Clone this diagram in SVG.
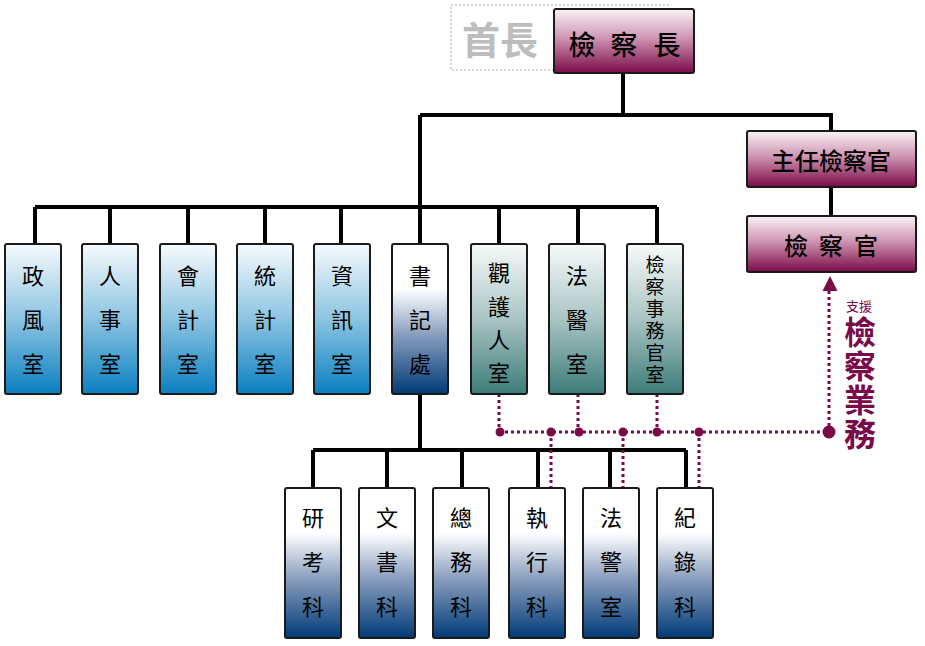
<svg xmlns="http://www.w3.org/2000/svg" width="925" height="646" viewBox="0 0 925 646">
<defs>
<linearGradient id="gMag" x1="0" y1="0" x2="0" y2="1">
<stop offset="0" stop-color="#f9f3f6"/><stop offset="0.45" stop-color="#cf95b2"/><stop offset="1" stop-color="#7a0a48"/>
</linearGradient>
<linearGradient id="gBlue" x1="0" y1="0" x2="0" y2="1">
<stop offset="0" stop-color="#f7fbfd"/><stop offset="0.5" stop-color="#8cc4e2"/><stop offset="1" stop-color="#0a7fc0"/>
</linearGradient>
<linearGradient id="gNavy" x1="0" y1="0" x2="0" y2="1">
<stop offset="0" stop-color="#ffffff"/><stop offset="0.3" stop-color="#ffffff"/><stop offset="0.6" stop-color="#8a9fbe"/><stop offset="1" stop-color="#003a78"/>
</linearGradient>
<linearGradient id="gTeal" x1="0" y1="0" x2="0" y2="1">
<stop offset="0" stop-color="#f7fafa"/><stop offset="0.5" stop-color="#a8c4c3"/><stop offset="1" stop-color="#3c7c78"/>
</linearGradient>
<style>
.box{stroke:#1a1a1a;stroke-width:2}
.t{font-family:"Noto Sans CJK TC","Noto Sans CJK SC",sans-serif;fill:#000;text-anchor:middle;dominant-baseline:central}
.v{font-size:22px}
.ln{fill:none;stroke:#000;stroke-width:4}
.dl{fill:none;stroke:#7a0a48;stroke-width:3;stroke-dasharray:3 3}
.dot{fill:#7a0a48}
.sup{font-family:"Noto Sans CJK TC","Noto Sans CJK SC",sans-serif;fill:#7a0a48}
</style>
</defs>

<g id="connectors">
<path class="ln" d="M623,73 V115 M420,115 H831 V131 M831,187 V216 M420,115 V207 M35,207 H657 M35,207 V244 M110,207 V244 M188,207 V244 M265,207 V244 M341,207 V244 M420,207 V244 M499,207 V244 M578,207 V244 M657,207 V244"/>
<path class="ln" d="M420,394 V450 M313,450 H686 M313,450 V488 M387,450 V488 M462,450 V488 M538,450 V488 M610,450 V488 M686,450 V488"/>
<path class="dl" d="M499,394 V432 M578,394 V432 M657,394 V432 M499,432 H829 M551,432 V488 M623,432 V488 M699,432 V488 M829,432 V290"/>
<polygon points="830,276 822.5,291 837.5,291" fill="#7a0a48"/>
<circle class="dot" cx="500" cy="432" r="4.5"/>
<circle class="dot" cx="551" cy="432" r="4.5"/>
<circle class="dot" cx="579" cy="432" r="4.5"/>
<circle class="dot" cx="623" cy="432" r="4.5"/>
<circle class="dot" cx="657" cy="432" r="4.5"/>
<circle class="dot" cx="699" cy="432" r="4.5"/>
<circle class="dot" cx="829" cy="432" r="6.5"/>
</g>

<g id="head-label">
<rect x="451" y="5" width="217" height="65" fill="none" stroke="#c8c8c8" stroke-width="1.5" stroke-dasharray="2 2"/>
<text x="500" y="37" class="t" style="font-size:38px;font-weight:bold;fill:#bdbdbd">首長</text>
</g>

<g id="n-chief">
<rect class="box" x="554" y="9" width="140" height="64" rx="2" fill="url(#gMag)"/>
<text y="43" class="t" style="font-size:27px;font-weight:500"><tspan x="582">檢</tspan><tspan x="624">察</tspan><tspan x="667">長</tspan></text>
</g>
<g id="n-chief-prosecutor">
<rect class="box" x="747" y="131" width="169" height="56" rx="2" fill="url(#gMag)"/>
<text x="831" y="159" class="t" style="font-size:24px;font-weight:500">主任檢察官</text>
</g>
<g id="n-prosecutor">
<rect class="box" x="747" y="216" width="169" height="56" rx="2" fill="url(#gMag)"/>
<text y="244" class="t" style="font-size:24px;font-weight:500"><tspan x="796">檢</tspan><tspan x="831">察</tspan><tspan x="866">官</tspan></text>
</g>

<g id="n-zf">
<rect class="box" x="5" y="244" width="56" height="150" rx="2" fill="url(#gBlue)"/>
<text class="t v" x="33" y="274">政</text><text class="t v" x="33" y="318">風</text><text class="t v" x="33" y="362">室</text>
</g>
<g id="n-rs">
<rect class="box" x="82" y="244" width="56" height="150" rx="2" fill="url(#gBlue)"/>
<text class="t v" x="110" y="274">人</text><text class="t v" x="110" y="318">事</text><text class="t v" x="110" y="362">室</text>
</g>
<g id="n-kj">
<rect class="box" x="160" y="244" width="56" height="150" rx="2" fill="url(#gBlue)"/>
<text class="t v" x="188" y="274">會</text><text class="t v" x="188" y="318">計</text><text class="t v" x="188" y="362">室</text>
</g>
<g id="n-tj">
<rect class="box" x="237" y="244" width="56" height="150" rx="2" fill="url(#gBlue)"/>
<text class="t v" x="265" y="274">統</text><text class="t v" x="265" y="318">計</text><text class="t v" x="265" y="362">室</text>
</g>
<g id="n-zx">
<rect class="box" x="314" y="244" width="56" height="150" rx="2" fill="url(#gBlue)"/>
<text class="t v" x="342" y="274">資</text><text class="t v" x="342" y="318">訊</text><text class="t v" x="342" y="362">室</text>
</g>
<g id="n-sj">
<rect class="box" x="392" y="244" width="56" height="150" rx="2" fill="url(#gNavy)"/>
<text class="t v" x="420" y="274">書</text><text class="t v" x="420" y="318">記</text><text class="t v" x="420" y="362">處</text>
</g>
<g id="n-gh">
<rect class="box" x="471" y="244" width="56" height="150" rx="2" fill="url(#gTeal)"/>
<text class="t v" x="499" y="271">觀</text><text class="t v" x="499" y="305">護</text><text class="t v" x="499" y="338">人</text><text class="t v" x="499" y="371">室</text>
</g>
<g id="n-fy">
<rect class="box" x="549" y="244" width="56" height="150" rx="2" fill="url(#gTeal)"/>
<text class="t v" x="577" y="274">法</text><text class="t v" x="577" y="318">醫</text><text class="t v" x="577" y="362">室</text>
</g>
<g id="n-jsw">
<rect class="box" x="627" y="244" width="56" height="150" rx="2" fill="url(#gTeal)"/>
<text style="font-family:'Noto Sans CJK TC','Noto Sans CJK SC',sans-serif;font-size:19px;writing-mode:vertical-rl;letter-spacing:3px" x="655" y="255">檢察事務官室</text>
</g>

<g id="n-yk">
<rect class="box" x="285" y="488" width="56" height="150" rx="2" fill="url(#gNavy)"/>
<text class="t v" x="313" y="516">研</text><text class="t v" x="313" y="560">考</text><text class="t v" x="313" y="605">科</text>
</g>
<g id="n-ws">
<rect class="box" x="359" y="488" width="56" height="150" rx="2" fill="url(#gNavy)"/>
<text class="t v" x="387" y="516">文</text><text class="t v" x="387" y="560">書</text><text class="t v" x="387" y="605">科</text>
</g>
<g id="n-zw">
<rect class="box" x="433" y="488" width="56" height="150" rx="2" fill="url(#gNavy)"/>
<text class="t v" x="461" y="516">總</text><text class="t v" x="461" y="560">務</text><text class="t v" x="461" y="605">科</text>
</g>
<g id="n-zh">
<rect class="box" x="509" y="488" width="56" height="150" rx="2" fill="url(#gNavy)"/>
<text class="t v" x="537" y="516">執</text><text class="t v" x="537" y="560">行</text><text class="t v" x="537" y="605">科</text>
</g>
<g id="n-fj">
<rect class="box" x="583" y="488" width="56" height="150" rx="2" fill="url(#gNavy)"/>
<text class="t v" x="611" y="516">法</text><text class="t v" x="611" y="560">警</text><text class="t v" x="611" y="605">室</text>
</g>
<g id="n-jl">
<rect class="box" x="657" y="488" width="56" height="150" rx="2" fill="url(#gNavy)"/>
<text class="t v" x="685" y="516">紀</text><text class="t v" x="685" y="560">錄</text><text class="t v" x="685" y="605">科</text>
</g>

<g id="support-label">
<text class="sup" style="font-size:13px" x="859" y="311" text-anchor="middle">支援</text>
<text class="sup" style="font-size:32px;font-weight:bold;writing-mode:vertical-rl;letter-spacing:2px" x="860" y="316">檢察業務</text>
</g>
</svg>
